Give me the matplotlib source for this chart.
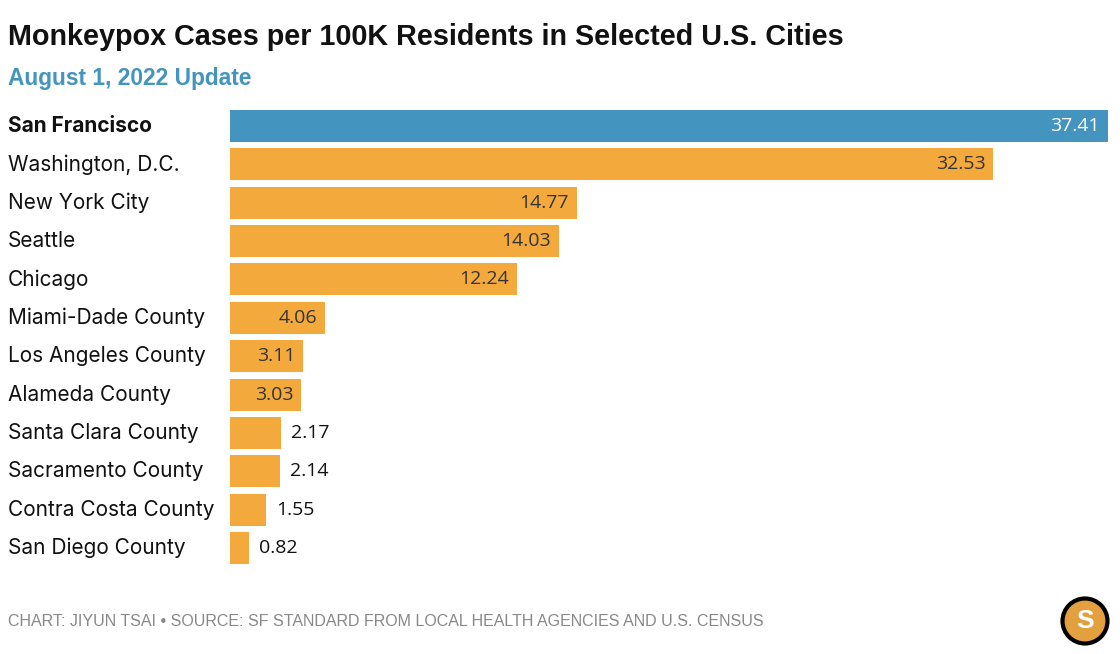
import matplotlib.pyplot as plt
from matplotlib.patches import Circle

cities = ["San Francisco", "Washington, D.C.", "New York City", "Seattle", "Chicago",
          "Miami-Dade County", "Los Angeles County", "Alameda County", "Santa Clara County",
          "Sacramento County", "Contra Costa County", "San Diego County"]
rates = [37.41, 32.53, 14.77, 14.03, 12.24, 4.06, 3.11, 3.03, 2.17, 2.14, 1.55, 0.82]

blue = "#4394bf"
orange = "#f4a93c"

fig = plt.figure(figsize=(11.2, 6.54), dpi=100)
ax = fig.add_axes([230 / 1120, 1 - 564 / 654, 878 / 1120, 454 / 654])

ypos = list(range(len(cities)))
colors = [blue] + [orange] * (len(cities) - 1)
ax.barh(ypos, rates, height=0.834, color=colors)
ax.set_xlim(0, max(rates))
ax.set_ylim(len(cities) - 1 + 0.417, -0.417)
ax.axis("off")

for i, (c, v) in enumerate(zip(cities, rates)):
    # city name on the left
    ax.annotate(c, xy=(0, i), xycoords=("axes fraction", "data"), xytext=(-222, 0),
                textcoords="offset pixels", ha="left", va="center", fontsize=15,
                fontfamily="Inter", fontweight="bold" if i == 0 else "normal",
                color="#111111")
    # value: inside the bar if it fits, else after it
    if v >= 3:
        ax.annotate(f"{v:.2f}", xy=(v, i), xytext=(-8, 0), textcoords="offset pixels",
                    ha="right", va="center", fontsize=14, fontfamily="Open Sans",
                    color="#ffffff" if i == 0 else "#333333")
    else:
        ax.annotate(f"{v:.2f}", xy=(v, i), xytext=(10, 0), textcoords="offset pixels",
                    ha="left", va="center", fontsize=14, fontfamily="Open Sans",
                    color="#111111")

fig.text(8 / 1120, 1 - 37 / 654, "Monkeypox Cases per 100K Residents in Selected U.S. Cities",
         fontsize=20.7, fontweight="bold", fontfamily="Liberation Sans", va="center", color="#111111")
fig.text(8 / 1120, 1 - 78 / 654, "August 1, 2022 Update", fontsize=16.4, fontweight="bold",
         fontfamily="Liberation Sans", va="center", color="#4394bf")
fig.text(8 / 1120, 1 - 621 / 654,
         "CHART: JIYUN TSAI \u2022 SOURCE: SF STANDARD FROM LOCAL HEALTH AGENCIES AND U.S. CENSUS",
         fontsize=11.5, fontfamily="Liberation Sans", va="center", color="#888888")

logo = fig.add_axes([1060 / 1120, 1 - 646 / 654, 50 / 1120, 50 / 654])
logo.set_xlim(-1, 1)
logo.set_ylim(-1, 1)
logo.set_aspect("equal")
logo.axis("off")
logo.add_patch(Circle((0, 0), 0.9, facecolor="#e3a03f", edgecolor="black", linewidth=3))
logo.text(0, -0.02, "S", ha="center", va="center", fontsize=19, fontweight="bold",
          fontfamily="Liberation Sans", color="white")

fig.savefig("out.png", dpi=100)
